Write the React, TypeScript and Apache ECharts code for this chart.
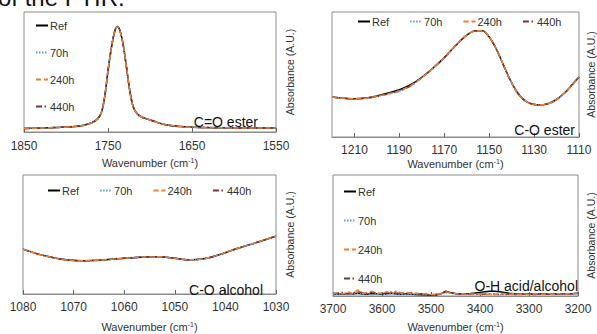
import React, { useEffect, useRef } from "react";
import * as echarts from "echarts";

const seriesNames = ["Ref", "70h", "240h", "440h"];

// Panel 1: C=O ester
const c1Ticks = [1850, 1750, 1650, 1550];
const c1Wn = [1850, 1830, 1810, 1795, 1780, 1770, 1763, 1758, 1754, 1750, 1746, 1742, 1739, 1736, 1732, 1728, 1724, 1720, 1715, 1710, 1704, 1695, 1688, 1678, 1668, 1650, 1620, 1590, 1550];
const c1Abs = [0.030, 0.033, 0.038, 0.042, 0.055, 0.075, 0.105, 0.16, 0.29, 0.51, 0.70, 0.84, 0.88, 0.85, 0.73, 0.54, 0.34, 0.21, 0.15, 0.125, 0.11, 0.09, 0.072, 0.057, 0.048, 0.040, 0.036, 0.034, 0.033];

// Panel 2: C-O ester
const c2Ticks = [1210, 1190, 1170, 1150, 1130, 1110];
const c2Wn = [1220, 1215, 1210, 1205, 1200, 1195, 1190, 1185, 1180, 1175, 1170, 1165, 1160, 1156, 1153, 1150, 1147, 1144, 1141, 1138, 1135, 1132, 1128, 1124, 1120, 1116, 1113, 1110];
const c2AbsRef = [0.32, 0.31, 0.306, 0.312, 0.328, 0.352, 0.378, 0.418, 0.478, 0.552, 0.635, 0.73, 0.815, 0.85, 0.85, 0.80, 0.71, 0.59, 0.47, 0.37, 0.305, 0.27, 0.257, 0.265, 0.30, 0.36, 0.42, 0.48];
const c2Abs = [0.32, 0.31, 0.306, 0.31, 0.325, 0.345, 0.368, 0.41, 0.475, 0.55, 0.635, 0.73, 0.815, 0.85, 0.85, 0.80, 0.71, 0.59, 0.47, 0.37, 0.305, 0.27, 0.257, 0.265, 0.30, 0.36, 0.42, 0.48];

// Panel 3: C-O alcohol
const c3Ticks = [1080, 1070, 1060, 1050, 1040, 1030];
const c3Wn = [1080, 1077, 1074, 1071, 1068, 1065, 1062, 1059, 1056, 1053, 1050, 1047, 1044, 1041, 1038, 1035, 1032, 1030];
const c3Abs = [0.377, 0.335, 0.305, 0.285, 0.279, 0.283, 0.294, 0.303, 0.311, 0.312, 0.300, 0.287, 0.298, 0.333, 0.378, 0.417, 0.458, 0.486];

// Panel 4: O-H acid/alcohol
const c4Ticks = [3700, 3600, 3500, 3400, 3300, 3200];
const c4Wn = [3700, 3690, 3680, 3670, 3660, 3650, 3640, 3630, 3620, 3610, 3600, 3590, 3580, 3570, 3560, 3550, 3540, 3530, 3520, 3510, 3500, 3490, 3480, 3470, 3460, 3450, 3440, 3430, 3420, 3410, 3400, 3390, 3380, 3370, 3360, 3350, 3340, 3330, 3320, 3310, 3300, 3290, 3280, 3270, 3260, 3250, 3240, 3230, 3220, 3210, 3200];
const c4Ref = [0.015, 0.018, 0.014, 0.020, 0.016, 0.022, 0.017, 0.015, 0.020, 0.018, 0.014, 0.019, 0.022, 0.016, 0.015, 0.018, 0.014, 0.012, 0.010, 0.008, 0.006, 0.008, 0.018, 0.040, 0.028, 0.020, 0.018, 0.017, 0.020, 0.024, 0.030, 0.036, 0.040, 0.040, 0.036, 0.030, 0.022, 0.018, 0.016, 0.015, 0.016, 0.015, 0.017, 0.016, 0.015, 0.016, 0.018, 0.017, 0.019, 0.020, 0.022];
const c470 = [0.012, 0.016, 0.020, 0.014, 0.018, 0.024, 0.015, 0.019, 0.013, 0.021, 0.016, 0.012, 0.020, 0.017, 0.013, 0.015, 0.018, 0.011, 0.012, 0.009, 0.010, 0.012, 0.016, 0.030, 0.022, 0.016, 0.014, 0.013, 0.016, 0.014, 0.012, 0.015, 0.013, 0.016, 0.014, 0.012, 0.015, 0.013, 0.012, 0.016, 0.014, 0.012, 0.015, 0.013, 0.016, 0.014, 0.017, 0.015, 0.018, 0.016, 0.019];
const c4240 = [0.018, 0.028, 0.016, 0.034, 0.020, 0.048, 0.022, 0.030, 0.040, 0.019, 0.026, 0.036, 0.018, 0.044, 0.025, 0.032, 0.017, 0.024, 0.015, 0.020, 0.012, 0.010, 0.020, 0.036, 0.024, 0.018, 0.022, 0.015, 0.019, 0.014, 0.018, 0.013, 0.017, 0.012, 0.016, 0.020, 0.014, 0.018, 0.013, 0.017, 0.012, 0.016, 0.020, 0.014, 0.018, 0.015, 0.019, 0.016, 0.020, 0.018, 0.021];
const c4440 = [0.020, 0.024, 0.030, 0.018, 0.026, 0.036, 0.028, 0.020, 0.032, 0.025, 0.018, 0.028, 0.034, 0.022, 0.027, 0.020, 0.024, 0.016, 0.018, 0.013, 0.011, 0.014, 0.018, 0.034, 0.026, 0.019, 0.016, 0.018, 0.015, 0.017, 0.014, 0.016, 0.019, 0.015, 0.013, 0.017, 0.015, 0.012, 0.016, 0.014, 0.017, 0.013, 0.016, 0.018, 0.014, 0.017, 0.015, 0.018, 0.016, 0.019, 0.020];

const FONT = "'Liberation Sans', Arial, Helvetica, sans-serif";
const GRAY = "#8c8c8c";
const TXT = "#333333";

const pairs = (wn: number[], vals: number[]) => wn.map((w, i) => [w, vals[i]]);

export default function App() {
  const ref = useRef<HTMLDivElement>(null);
  useEffect(() => {
    if (!ref.current) return;
    const chart = echarts.init(ref.current, null, { renderer: "svg" });

    const colors = ["#000000", "#5B9BD5", "#ED7D31", "#7A3535"];
    const types: any[] = ["solid", [1.5, 1.5], [5, 3], [6, 2.5, 1.5, 2.5]];
    const zs = [2, 3, 5, 4];

    const panels = [
      { ticks: c1Ticks, min: 1550, max: 1850, data: [pairs(c1Wn, c1Abs), pairs(c1Wn, c1Abs), pairs(c1Wn, c1Abs), pairs(c1Wn, c1Abs)], nameGap: 25, yGap: 8, labelMargin: 8 },
      { ticks: c2Ticks, min: 1110, max: 1220, data: [pairs(c2Wn, c2AbsRef), pairs(c2Wn, c2Abs), pairs(c2Wn, c2Abs), pairs(c2Wn, c2Abs)], nameGap: 21, yGap: 6, labelMargin: 7 },
      { ticks: c3Ticks, min: 1030, max: 1080, data: [pairs(c3Wn, c3Abs), pairs(c3Wn, c3Abs), pairs(c3Wn, c3Abs), pairs(c3Wn, c3Abs)], nameGap: 27, yGap: 8, labelMargin: 7 },
      { ticks: c4Ticks, min: 3200, max: 3700, data: [pairs(c4Wn, c4Ref), pairs(c4Wn, c470), pairs(c4Wn, c4240), pairs(c4Wn, c4440)], nameGap: 25, yGap: 7, labelMargin: 7 },
    ];

    const grids = [
      { left: 24, top: 12, width: 252, height: 120 },
      { left: 332, top: 12, width: 256, height: 125 },
      { left: 23, top: 175, width: 253, height: 122 },
      { left: 333, top: 175, width: 253, height: 123 },
    ].map((g) => ({ ...g, show: true, borderColor: GRAY, borderWidth: 1, backgroundColor: "transparent" }));

    const xAxis = panels.map((p, i) => ({
      type: "value",
      gridIndex: i,
      inverse: true,
      min: p.min,
      max: p.max,
      axisLine: { show: true, lineStyle: { color: GRAY, width: 1 } },
      axisTick: { show: true, inside: true, length: 4, customValues: p.ticks, lineStyle: { color: "#666" } },
      axisLabel: { customValues: p.ticks, fontSize: 12, color: TXT, fontFamily: FONT, margin: p.labelMargin, formatter: (v: number) => String(v) },
      splitLine: { show: false },
      name: "Wavenumber (cm{sup|-1})",
      nameLocation: "middle",
      nameGap: p.nameGap,
      nameTextStyle: {
        fontSize: 11,
        color: TXT,
        fontFamily: FONT,
        lineHeight: 12,
        rich: { sup: { fontSize: 7, verticalAlign: "top", lineHeight: 12, color: TXT, fontFamily: FONT } },
      },
    }));

    const yAxis = panels.map((p, i) => ({
      type: "value",
      gridIndex: i,
      min: 0,
      max: 1,
      position: "right",
      axisLine: { show: false },
      axisTick: { show: false },
      axisLabel: { show: false },
      splitLine: { show: false },
      name: "Absorbance (A.U.)",
      nameLocation: "middle",
      nameRotate: 90,
      nameGap: p.yGap,
      nameTextStyle: { fontSize: 10.5, color: TXT, fontFamily: FONT },
    }));

    const series: any[] = [];
    panels.forEach((p, i) => {
      seriesNames.forEach((name, j) => {
        series.push({
          type: "line",
          name,
          xAxisIndex: i,
          yAxisIndex: i,
          data: p.data[j],
          symbol: "none",
          showSymbol: false,
          smooth: i === 3 ? false : 0.3,
          lineStyle: { color: colors[j], width: 1.5, type: types[j] },
          itemStyle: { color: colors[j] },
          z: zs[j],
        });
      });
    });

    const legendBase = {
      data: seriesNames,
      itemWidth: 12,
      itemHeight: 10,
      selectedMode: false,
      padding: 0,
      itemStyle: { opacity: 0, borderWidth: 0 },
      textStyle: { fontSize: 11, color: TXT, fontFamily: FONT, padding: [0, 0, 0, -3] },
    };

    const legend = [
      { ...legendBase, left: 35, top: 20, orient: "vertical", itemGap: 16 },
      { ...legendBase, left: 357, top: 16, orient: "horizontal", itemGap: 20 },
      { ...legendBase, left: 47, top: 185, orient: "horizontal", itemGap: 20 },
      { ...legendBase, left: 343, top: 186, orient: "vertical", itemGap: 18 },
    ];

    const note = (text: string, x: number, y: number) => ({
      type: "text",
      x,
      y,
      z: 100,
      style: { text, fontSize: 14, fontFamily: FONT, fill: "#111", align: "right", verticalAlign: "middle" },
    });

    chart.setOption({
      animation: false,
      backgroundColor: "#ffffff",
      grid: grids,
      xAxis,
      yAxis,
      legend,
      series,
      graphic: [
        { type: "text", x: -2, y: -3, style: { text: "of the FTIR.", fontSize: 24, fontFamily: FONT, fill: "#111", verticalAlign: "middle" } },
        note("C=O ester", 258, 122),
        note("C-O ester", 575, 130),
        note("C-O alcohol", 263, 290),
        note("O-H acid/alcohol", 578, 286),
      ],
    });
    return () => chart.dispose();
  }, []);
  return <div ref={ref} style={{ position: "fixed", left: 0, top: 0, width: 597, height: 334, background: "#fff" }} />;
}
